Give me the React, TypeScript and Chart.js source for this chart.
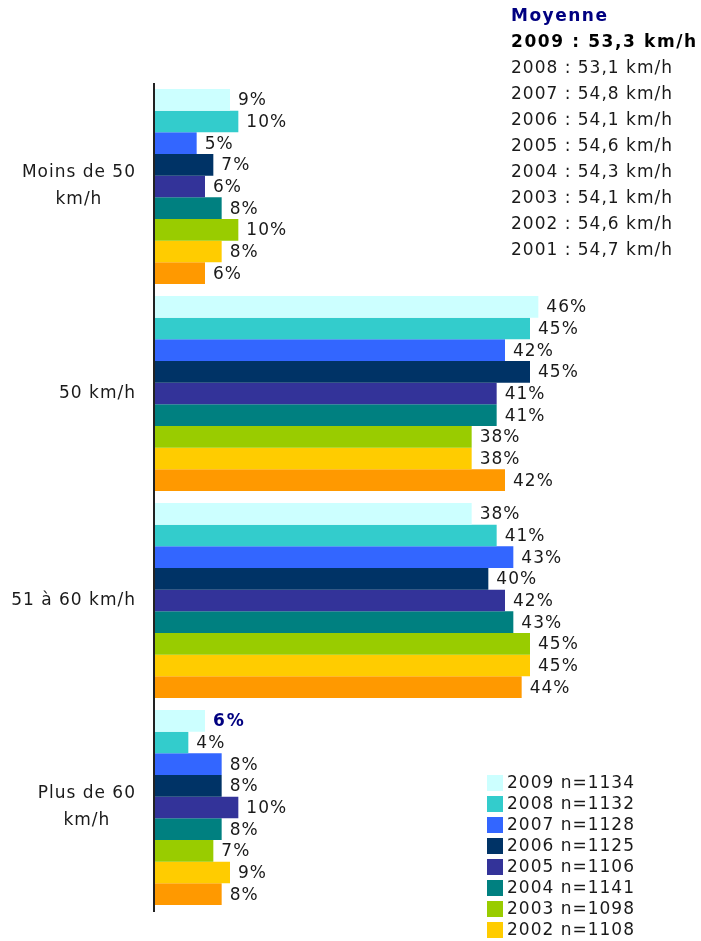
import React, { useEffect, useRef } from "react";
import { Chart, registerables } from "chart.js";

Chart.register(...registerables);

const categories: string[][] = [["Moins de 50", "km/h"], ["50 km/h"], ["51 à 60 km/h"], ["Plus de 60", "km/h"]];
const years = ["2009", "2008", "2007", "2006", "2005", "2004", "2003", "2002", "2001"];
const sampleSizes = ["1134", "1132", "1128", "1125", "1106", "1141", "1098", "1108", "1090"];
const colors = ["#CCFFFF", "#33CCCC", "#3366FF", "#003366", "#333399", "#008080", "#99CC00", "#FFCC00", "#FF9900"];
const values2009 = [9, 46, 38, 6];
const values2008 = [10, 45, 41, 4];
const values2007 = [5, 42, 43, 8];
const values2006 = [7, 45, 40, 8];
const values2005 = [6, 41, 42, 10];
const values2004 = [8, 41, 43, 8];
const values2003 = [10, 38, 45, 7];
const values2002 = [8, 38, 45, 9];
const values2001 = [6, 42, 44, 8];
const seriesValues = [values2009, values2008, values2007, values2006, values2005, values2004, values2003, values2002, values2001];
const averageTitle = "Moyenne";
const averages = ["53,3", "53,1", "54,8", "54,1", "54,6", "54,3", "54,1", "54,6", "54,7"];

const FONT = "'DejaVu Sans', Verdana, sans-serif";

const overlayPlugin = {
  id: "overlay",
  afterDatasetsDraw(chart: any) {
    const ctx = chart.ctx as CanvasRenderingContext2D;
    const area = chart.chartArea;
    ctx.save();
    (ctx as any).letterSpacing = "1px";

    // axis line
    ctx.strokeStyle = "#222222";
    ctx.lineWidth = 2;
    ctx.beginPath();
    ctx.moveTo(area.left - 1, area.top);
    ctx.lineTo(area.left - 1, area.bottom + 1);
    ctx.stroke();

    // value labels
    ctx.textBaseline = "middle";
    ctx.textAlign = "left";
    chart.data.datasets.forEach((ds: any, di: number) => {
      const meta = chart.getDatasetMeta(di);
      meta.data.forEach((bar: any, i: number) => {
        const special = di === 0 && i === 3;
        (ctx as any).letterSpacing = special ? "2px" : "1px";
        ctx.font = (special ? "bold " : "") + "17px " + FONT;
        ctx.fillStyle = special ? "#000080" : "#1a1a1a";
        ctx.fillText(ds.data[i] + "%", bar.x + 8, bar.y + 1);
      });
    });
    (ctx as any).letterSpacing = "1px";

    // category labels
    const yScale = chart.scales.y;
    ctx.font = "17px " + FONT;
    ctx.fillStyle = "#1a1a1a";
    ctx.textAlign = "center";
    const rightEdge = 136;
    const lh = 27;
    categories.forEach((lines, i) => {
      const yc = yScale.getPixelForValue(i);
      const maxW = Math.max(...lines.map((l) => ctx.measureText(l).width));
      const cx = rightEdge - maxW / 2;
      const startY = yc - ((lines.length - 1) * lh) / 2;
      lines.forEach((l, j) => ctx.fillText(l, cx, startY + j * lh));
    });

    // averages block
    ctx.textAlign = "left";
    const ax = 511;
    const ay = 17;
    const step = 25.9;
    (ctx as any).letterSpacing = "1.5px";
    ctx.font = "bold 17px " + FONT;
    ctx.fillStyle = "#000080";
    ctx.fillText(averageTitle, ax, ay);
    years.forEach((yr, i) => {
      (ctx as any).letterSpacing = i === 0 ? "1.6px" : "1px";
      ctx.font = (i === 0 ? "bold " : "") + "17px " + FONT;
      ctx.fillStyle = i === 0 ? "#000000" : "#1a1a1a";
      ctx.fillText(yr + " : " + averages[i] + " km/h", ax, ay + step * (i + 1));
    });
    (ctx as any).letterSpacing = "1px";

    // legend
    ctx.font = "17px " + FONT;
    years.forEach((yr, i) => {
      const cy = 783 + i * 21;
      ctx.fillStyle = colors[i];
      ctx.fillRect(487, cy - 8, 16, 16);
      ctx.fillStyle = "#1a1a1a";
      ctx.fillText(yr + " n=" + sampleSizes[i], 507, cy + 1);
    });

    ctx.restore();
  },
};

export default function App() {
  const ref = useRef<HTMLCanvasElement>(null);
  useEffect(() => {
    if (!ref.current) return;
    const chart = new Chart(ref.current, {
      type: "bar",
      data: {
        labels: categories.map((c) => c.join(" ")),
        datasets: years.map((yr, i) => ({
          label: yr,
          data: seriesValues[i],
          backgroundColor: colors[i],
          borderWidth: 0,
          barPercentage: 1,
          categoryPercentage: 0.942,
        })),
      },
      options: {
        indexAxis: "y",
        responsive: false,
        animation: false,
        layout: { padding: { left: 155, right: 46, top: 83, bottom: 30 } },
        scales: {
          x: { display: false, min: 0, max: 60 },
          y: { display: false },
        },
        plugins: { legend: { display: false }, tooltip: { enabled: false } },
      },
      plugins: [overlayPlugin],
    });
    return () => chart.destroy();
  }, []);
  return (
    <div style={{ position: "fixed", left: 0, top: 0, width: 701, height: 941, background: "#fff" }}>
      <canvas ref={ref} width={701} height={941} />
    </div>
  );
}
